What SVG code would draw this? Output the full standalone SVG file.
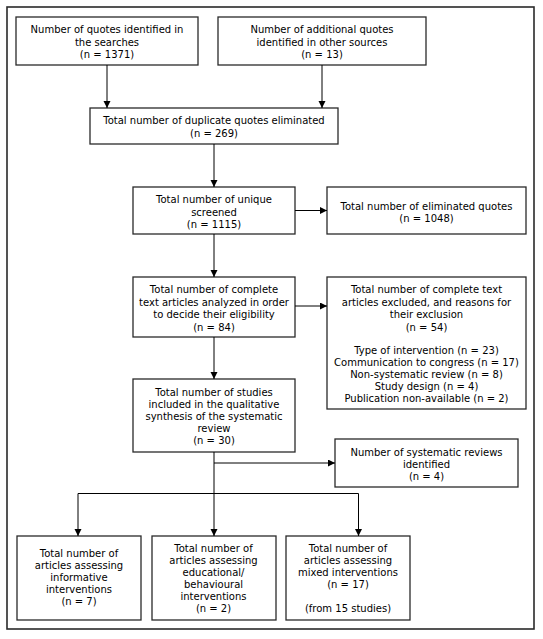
<svg xmlns="http://www.w3.org/2000/svg" width="543" height="639" viewBox="0 0 543 639">
<defs>
<marker id="ah" markerWidth="8" markerHeight="8" refX="7" refY="3.5" orient="auto" markerUnits="userSpaceOnUse">
<path d="M0,0 L7,3.5 L0,7 Z" fill="#000"/>
</marker>
<style>
.box{fill:#fff;stroke:#2a2a2a;stroke-width:1.3}
.frame{fill:#fff;stroke:#2a2a2a;stroke-width:1.6}
.c{fill:none;stroke:#000;stroke-width:1}
text{font-family:"DejaVu Sans","Liberation Sans",sans-serif;font-size:10px;fill:#000;text-anchor:middle}
</style>
</defs>
<rect width="543" height="639" fill="#fff"/>
<rect class="frame" x="7" y="7" width="527" height="622"/>
<g id="n1"><rect class="box" x="16" y="17" width="182" height="48"/>
<text><tspan x="107" y="33">Number of quotes identified in</tspan><tspan x="107" y="45.5">the searches</tspan><tspan x="107" y="58">(n = 1371)</tspan></text></g>
<g id="n2"><rect class="box" x="218" y="17" width="208" height="48"/>
<text><tspan x="322" y="33">Number of additional quotes</tspan><tspan x="322" y="45.5">identified in other sources</tspan><tspan x="322" y="58">(n = 13)</tspan></text></g>
<g id="n3"><rect class="box" x="90" y="108" width="248" height="36"/>
<text><tspan x="214" y="124">Total number of duplicate quotes eliminated</tspan><tspan x="214" y="137">(n = 269)</tspan></text></g>
<g id="n4"><rect class="box" x="133" y="187" width="162" height="47"/>
<text><tspan x="214" y="203">Total number of unique</tspan><tspan x="214" y="215.5">screened</tspan><tspan x="214" y="228">(n = 1115)</tspan></text></g>
<g id="n5"><rect class="box" x="327" y="187" width="199" height="47"/>
<text><tspan x="426.5" y="209.5">Total number of eliminated quotes</tspan><tspan x="426.5" y="222">(n = 1048)</tspan></text></g>
<g id="n6"><rect class="box" x="133" y="277" width="162" height="60"/>
<text><tspan x="214" y="293">Total number of complete</tspan><tspan x="214" y="305.5">text articles analyzed in order</tspan><tspan x="214" y="318">to decide their eligibility</tspan><tspan x="214" y="330.5">(n = 84)</tspan></text></g>
<g id="n7"><rect class="box" x="327" y="277" width="199" height="132"/>
<text><tspan x="426.5" y="293">Total number of complete text</tspan><tspan x="426.5" y="305.5">articles excluded, and reasons for</tspan><tspan x="426.5" y="318">their exclusion</tspan><tspan x="426.5" y="330.5">(n = 54)</tspan><tspan x="426.5" y="353.5">Type of intervention (n = 23)</tspan><tspan x="426.5" y="365.5">Communication to congress (n = 17)</tspan><tspan x="426.5" y="377.5">Non-systematic review (n = 8)</tspan><tspan x="426.5" y="389.5">Study design (n = 4)</tspan><tspan x="426.5" y="401.5">Publication non-available (n = 2)</tspan></text></g>
<g id="n8"><rect class="box" x="133" y="379" width="162" height="73"/>
<text><tspan x="214" y="396">Total number of studies</tspan><tspan x="214" y="408">included in the qualitative</tspan><tspan x="214" y="420">synthesis of the systematic</tspan><tspan x="214" y="432">review</tspan><tspan x="214" y="444">(n = 30)</tspan></text></g>
<g id="n9"><rect class="box" x="335" y="439" width="183" height="48"/>
<text><tspan x="426.5" y="455.5">Number of systematic reviews</tspan><tspan x="426.5" y="467.5">identified</tspan><tspan x="426.5" y="479.5">(n = 4)</tspan></text></g>
<g id="n10"><rect class="box" x="17" y="536" width="124" height="84"/>
<text><tspan x="79" y="557">Total number of</tspan><tspan x="79" y="569">articles assessing</tspan><tspan x="79" y="581">informative</tspan><tspan x="79" y="593">interventions</tspan><tspan x="79" y="605">(n = 7)</tspan></text></g>
<g id="n11"><rect class="box" x="152" y="536" width="124" height="84"/>
<text><tspan x="213.5" y="552">Total number of</tspan><tspan x="213.5" y="564">articles assessing</tspan><tspan x="213.5" y="576">educational/</tspan><tspan x="213.5" y="588">behavioural</tspan><tspan x="213.5" y="600">interventions</tspan><tspan x="213.5" y="612">(n = 2)</tspan></text></g>
<g id="n12"><rect class="box" x="286" y="536" width="124" height="84"/>
<text><tspan x="348" y="552">Total number of</tspan><tspan x="348" y="564">articles assessing</tspan><tspan x="348" y="576">mixed interventions</tspan><tspan x="348" y="588">(n = 17)</tspan><tspan x="348" y="612">(from 15 studies)</tspan></text></g>
<g id="connectors">
<path class="c" d="M107,65 V108" marker-end="url(#ah)"/>
<path class="c" d="M322,65 V108" marker-end="url(#ah)"/>
<path class="c" d="M214,144 V187" marker-end="url(#ah)"/>
<path class="c" d="M295,210.5 H327" marker-end="url(#ah)"/>
<path class="c" d="M214,234 V277" marker-end="url(#ah)"/>
<path class="c" d="M295,306 H327" marker-end="url(#ah)"/>
<path class="c" d="M214,337 V379" marker-end="url(#ah)"/>
<path class="c" d="M214,463 H335" marker-end="url(#ah)"/>
<path class="c" d="M214,452 V536" marker-end="url(#ah)"/>
<path class="c" d="M78,493.5 H358.5 V536" marker-end="url(#ah)"/>
<path class="c" d="M78,493.5 V536" marker-end="url(#ah)"/>
</g>
</svg>
